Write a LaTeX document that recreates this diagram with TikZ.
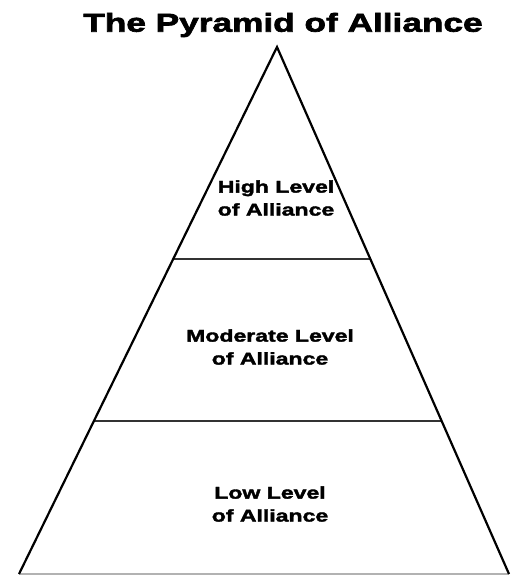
\documentclass[tikz,border=0pt]{standalone}
\usepackage{fontspec}
\usetikzlibrary{calc}
\newfontfamily\titlefont{Liberation Sans}[BoldFeatures={FakeBold=2.6,FakeStretch=1.36}]
\newfontfamily\labelfont{Liberation Sans}[BoldFeatures={FakeBold=2.2,FakeStretch=1.36}]
\begin{document}
\begin{tikzpicture}[x=1bp,y=-1bp,
  side/.style={line width=2.2bp,black},
  divider/.style={line width=2bp,black!80},
  baseline/.style={line width=1.2bp,black!30},
  label/.style={align=center,font=\labelfont\bfseries\fontsize{17}{23}\selectfont},
  titlestyle/.style={font=\titlefont\bfseries\fontsize{26}{32}\selectfont}]
\useasboundingbox (0,0) rectangle (512,575);
\coordinate (apex) at (277,47);
\coordinate (bl) at (19,574);
\coordinate (br) at (509,574);
\coordinate (h1l) at ($(apex)!0.402!(bl)$);
\coordinate (h1r) at ($(apex)!0.402!(br)$);
\coordinate (h2l) at ($(apex)!0.710!(bl)$);
\coordinate (h2r) at ($(apex)!0.710!(br)$);
\draw[baseline] (bl) -- (br);
\draw[divider] (h1l) -- (h1r);
\draw[divider] (h2l) -- (h2r);
\draw[side,line join=miter] (bl) -- (apex) -- (br);
\node[titlestyle] (title) at (283,25) {The Pyramid of Alliance};
\node[label] (high) at (276,198) {High Level\\of Alliance};
\node[label] (mod) at (270,347) {Moderate Level\\of Alliance};
\node[label] (low) at (270,504) {Low Level\\of Alliance};
\end{tikzpicture}
\end{document}
